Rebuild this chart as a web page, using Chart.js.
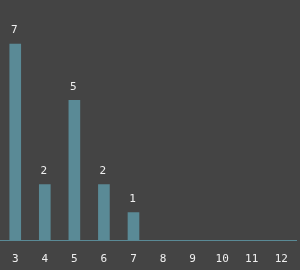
<!DOCTYPE html>
<html>
<head>
<meta charset="utf-8">
<script src="https://cdn.jsdelivr.net/npm/chart.js@4/dist/chart.umd.min.js"></script>
<style>
  html, body { margin: 0; padding: 0; background: #444444; }
  canvas { display: block; }
</style>
</head>
<body>
<canvas id="myChart" width="300" height="270"></canvas>
<script>
'use strict';

let categories = ['3', '4', '5', '6', '7', '8', '9', '10', '11', '12'];
let counts = [7, 2, 5, 2, 1, 0, 0, 0, 0, 0];
let yMax = 8;

const barColor = 'rgb(90, 138, 150)';
const textColor = '#f0f0f0';
const fontFamily = '"DejaVu Sans Mono", monospace';

// draws the number above each bar (no datalabels plugin available)
const valueLabels = {
  id: 'valueLabels',
  afterDatasetsDraw(chart) {
    let ctx = chart.ctx;
    let meta = chart.getDatasetMeta(0);
    ctx.save();
    ctx.fillStyle = textColor;
    ctx.font = '11px ' + fontFamily;
    ctx.textAlign = 'center';
    ctx.textBaseline = 'bottom';
    meta.data.forEach(function(bar, i) {
      let v = counts[i];
      if (!v) return;
      ctx.fillText(String(v), bar.x - 1, bar.y - 8);
    });
    ctx.restore();
  }
};

let ctx = document.getElementById('myChart').getContext('2d');
let myChart = new Chart(ctx, {
  type: 'bar',
  data: {
    labels: categories,
    datasets: [{
      data: counts,
      backgroundColor: barColor,
      borderWidth: 0,
      barThickness: 11
    }]
  },
  options: {
    responsive: false,
    animation: false,
    events: [],
    layout: {
      padding: { left: -2.5, right: 2.5, top: 16, bottom: -8 }
    },
    plugins: {
      legend: { display: false },
      tooltip: { enabled: false }
    },
    scales: {
      x: {
        grid: { display: false, drawTicks: false },
        border: { display: true, color: barColor, width: 1 },
        ticks: {
          color: textColor,
          font: { family: fontFamily, size: 11 },
          padding: 12,
          maxRotation: 0,
          autoSkip: false
        }
      },
      y: {
        display: false,
        min: 0,
        max: yMax
      }
    }
  },
  plugins: [valueLabels]
});
</script>
</body>
</html>
